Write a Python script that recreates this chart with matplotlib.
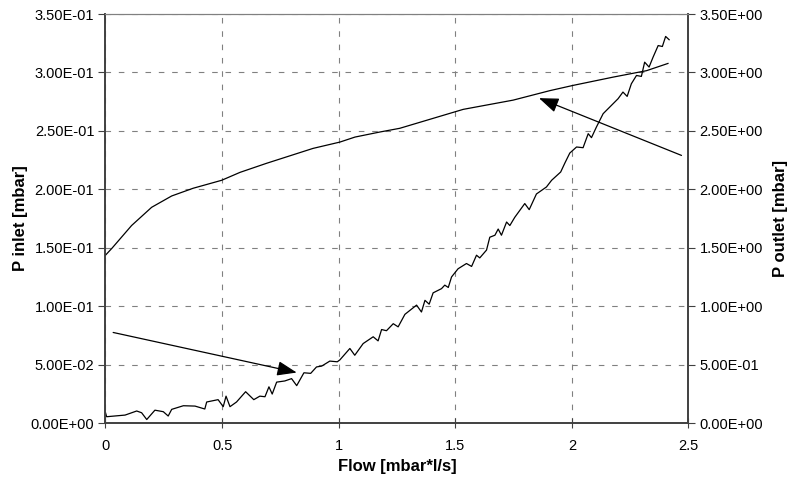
import matplotlib
matplotlib.use("Agg")
import matplotlib.pyplot as plt
from matplotlib.ticker import FuncFormatter, MultipleLocator

plt.rcParams['font.family'] = ['Liberation Sans', 'DejaVu Sans']

# P inlet (left axis) vs flow
flow_in = [0.0, 0.005, 0.084, 0.134, 0.155, 0.177, 0.212, 0.248, 0.269, 0.284, 0.334, 0.384,
           0.426, 0.434, 0.483, 0.505, 0.517, 0.534, 0.562, 0.601, 0.636, 0.662, 0.684, 0.701,
           0.715, 0.734, 0.769, 0.798, 0.82, 0.851, 0.88, 0.905, 0.927, 0.962, 0.994, 1.005,
           1.048, 1.069, 1.105, 1.148, 1.169, 1.184, 1.205, 1.234, 1.255, 1.284, 1.334, 1.355,
           1.37, 1.388, 1.405, 1.441, 1.455, 1.47, 1.484, 1.512, 1.548, 1.57, 1.591, 1.605,
           1.634, 1.648, 1.67, 1.684, 1.698, 1.72, 1.734, 1.755, 1.798, 1.817, 1.848, 1.891,
           1.913, 1.952, 1.97, 1.991, 2.02, 2.048, 2.07, 2.084, 2.105, 2.134, 2.162, 2.198,
           2.219, 2.237, 2.255, 2.277, 2.298, 2.312, 2.331, 2.348, 2.37, 2.388, 2.402, 2.417]
p_inlet = [0.009, 0.0054, 0.0068, 0.0103, 0.0088, 0.003, 0.011, 0.0097, 0.006, 0.0117, 0.0148, 0.0145,
           0.012, 0.018, 0.020, 0.014, 0.023, 0.014, 0.018, 0.0268, 0.020, 0.023, 0.0225, 0.031,
           0.0248, 0.035, 0.036, 0.038, 0.032, 0.043, 0.0425, 0.048, 0.0487, 0.053, 0.0524, 0.054,
           0.0638, 0.058, 0.068, 0.0738, 0.0703, 0.080, 0.079, 0.085, 0.0823, 0.093, 0.1009, 0.095,
           0.105, 0.1017, 0.1114, 0.115, 0.118, 0.116, 0.125, 0.132, 0.1365, 0.134, 0.1436, 0.1413,
           0.148, 0.159, 0.1607, 0.166, 0.1607, 0.172, 0.169, 0.176, 0.1878, 0.1826, 0.196, 0.202,
           0.2077, 0.2148, 0.2225, 0.231, 0.2362, 0.2356, 0.2476, 0.2442, 0.2532, 0.2647, 0.2703, 0.2775,
           0.2832, 0.2795, 0.2903, 0.2974, 0.2966, 0.3088, 0.3046, 0.313, 0.323, 0.3222, 0.3308, 0.328]

# P outlet (right axis) vs flow
flow_out = [0.0, 0.028, 0.112, 0.198, 0.284, 0.376, 0.498, 0.577, 0.69, 0.89, 1.005, 1.07,
            1.176, 1.262, 1.534, 1.748, 1.905, 2.005, 2.177, 2.32, 2.412]
p_outlet = [1.436, 1.496, 1.69, 1.846, 1.943, 2.009, 2.077, 2.145, 2.222, 2.35, 2.404, 2.447,
            2.49, 2.522, 2.684, 2.763, 2.844, 2.889, 2.96, 3.015, 3.077]

fig = plt.figure(figsize=(7.9, 4.78), dpi=100)
ax = fig.add_axes([0.1335, 0.115, 0.738, 0.8557])
ax2 = ax.twinx()

ax.plot(flow_in, p_inlet, color='black', lw=0.9)
ax2.plot(flow_out, p_outlet, color='black', lw=0.9)

ax.set_xlim(0, 2.5)
ax.set_ylim(0, 0.35)
ax2.set_ylim(0, 3.5)
ax.xaxis.set_major_locator(MultipleLocator(0.5))
ax.yaxis.set_major_locator(MultipleLocator(0.05))
ax2.yaxis.set_major_locator(MultipleLocator(0.5))
ax.xaxis.set_major_formatter(FuncFormatter(lambda v, p: f"{v:g}"))
ax.yaxis.set_major_formatter(FuncFormatter(lambda v, p: f"{v:.2E}"))
ax2.yaxis.set_major_formatter(FuncFormatter(lambda v, p: f"{v:.2E}"))

ax.grid(True, color='#808080', linestyle=(0, (5, 7)), lw=0.8)
for a in (ax, ax2):
    a.tick_params(axis='y', direction='out', length=5, width=0.8, color='#404040',
                  labelsize=10.5, pad=3)
    for s in ('top',):
        a.spines[s].set_color('#808080')
        a.spines[s].set_linewidth(0.8)
    for s in ('left', 'right', 'bottom'):
        a.spines[s].set_color('#404040')
        a.spines[s].set_linewidth(1.2)
ax.tick_params(axis='x', direction='inout', length=7, width=0.8, color='#404040',
               labelsize=10.5, pad=8)

ax.set_xlabel('Flow [mbar*l/s]', fontsize=12, fontweight='bold', labelpad=4)
ax.set_ylabel('P inlet [mbar]', fontsize=12, fontweight='bold', labelpad=2)
ax2.set_ylabel('P outlet [mbar]', fontsize=12, fontweight='bold', labelpad=7)

arrow_kw = dict(arrowstyle='-|>,head_length=1.2,head_width=0.45', color='black', lw=0.9,
                shrinkA=0, shrinkB=0)
ax.annotate('', xy=(0.82, 0.0432), xytext=(0.033, 0.0775), arrowprops=arrow_kw)
ax.annotate('', xy=(1.859, 0.278), xytext=(2.47, 0.229), arrowprops=arrow_kw)

fig.savefig('out.png', dpi=100)
